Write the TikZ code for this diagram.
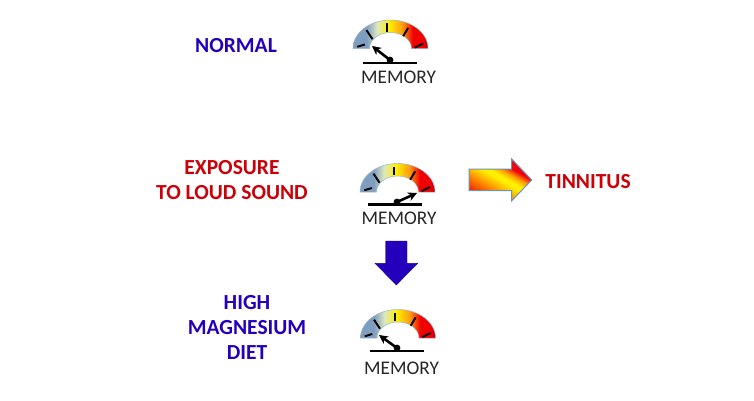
\documentclass[tikz,border=0pt]{standalone}
\usepackage{fontspec}
\setmainfont{Carlito}
\usetikzlibrary{arrows.meta}
\definecolor{gblue}{HTML}{7F9DBE}
\definecolor{glight}{HTML}{DDE8C0}
\definecolor{gyellow}{HTML}{FFEF00}
\definecolor{gorange}{HTML}{FF9A10}
\definecolor{gred}{HTML}{F00000}
\definecolor{gdark}{HTML}{B00010}
\definecolor{fred}{HTML}{F02000}
\definecolor{forange}{HTML}{FF9A00}
\definecolor{fred2}{HTML}{F00010}
\definecolor{labelblue}{HTML}{2400BC}
\definecolor{labelred}{HTML}{CC0008}
\definecolor{edgeblue}{HTML}{6E94B8}
\pgfdeclarehorizontalshading{gaugeband}{100bp}{
 color(0bp)=(gblue); color(25bp)=(gblue); color(34bp)=(gblue);
 color(41bp)=(glight); color(49bp)=(gyellow); color(58bp)=(gorange);
 color(65bp)=(gred); color(72bp)=(gred); color(75bp)=(gdark); color(100bp)=(gdark)}
\pgfdeclareverticalshading{firearrow}{100bp}{
 color(0bp)=(fred); color(25bp)=(fred); color(40bp)=(forange); color(50bp)=(gyellow);
 color(54bp)=(gyellow); color(60bp)=(forange); color(66bp)=(fred2); color(100bp)=(fred2)}
\tikzset{
 bluelabel/.style={font=\fontsize{21.5}{24}\selectfont\bfseries,text=labelblue,align=center,inner sep=0pt},
 redlabel/.style={font=\fontsize{21.5}{24}\selectfont\bfseries,text=labelred,align=center,inner sep=0pt},
 memlabel/.style={font=\fontsize{19.3}{22}\selectfont,text=black!85,inner sep=0pt},
 tickmark/.style={line width=1.9pt,black},
 baseline bar/.style={line width=2.8pt,black},
 needle/.style={line width=2.6pt,black,-{Stealth[length=9pt,width=9pt]}},
 gaugeface/.pic={
  \shade[shading=gaugeband,draw=edgeblue!70,line width=0.5pt]
    (-37.5,0) arc[start angle=180,end angle=0,x radius=37.5,y radius=28.5]
    -- (21,0) arc[start angle=0,end angle=180,x radius=21,y radius=16] -- cycle;
  \draw[tickmark] (-33.3,1.7) -- (-25.7,4);
  \draw[tickmark] (-24,18.3) -- (-18,9.3);
  \draw[tickmark] (-3.3,25) -- (-3.3,16.7);
  \draw[tickmark] (17.7,20.7) -- (12.7,12.3);
  \draw[tickmark] (24.3,1) -- (32.7,5);
 }
}
\begin{document}
\begin{tikzpicture}[x=1pt,y=1pt]
\useasboundingbox[fill=white] (0,0) rectangle (754,400);
% gauges
\pic at (390.5,351.5) {gaugeface};
\pic at (397.5,208) {gaugeface};
\pic at (398,62) {gaugeface};
% gauge 1
\coordinate (p1) at (390,340);
\coordinate (t1) at (372,354);
\coordinate (bl1) at (363,337);
\coordinate (br1) at (417,337);
\draw[baseline bar] (bl1) -- (br1);
\draw[needle] (p1) -- (t1);
\fill (p1) circle (3.4);
\node[memlabel] (m1) at (398.5,323) {MEMORY};
% gauge 2
\coordinate (p2) at (397,198);
\coordinate (t2) at (417,207);
\coordinate (bl2) at (368,195.5);
\coordinate (br2) at (422,195.5);
\draw[baseline bar] (bl2) -- (br2);
\draw[needle] (p2) -- (t2);
\fill (p2) circle (3.4);
\node[memlabel] (m2) at (399,182) {MEMORY};
% gauge 3
\coordinate (p3) at (397,52);
\coordinate (t3) at (379,65);
\coordinate (bl3) at (370,49);
\coordinate (br3) at (424,49);
\draw[baseline bar] (bl3) -- (br3);
\draw[needle] (p3) -- (t3);
\fill (p3) circle (3.4);
\node[memlabel] (m3) at (401.5,32) {MEMORY};
% text
\node[bluelabel] (normal) at (236,354.5) {NORMAL};
\node[redlabel] (exposure) at (232,232.5) {EXPOSURE};
\node[redlabel] (loud) at (232,207.5) {TO LOUD SOUND};
\node[redlabel] (tinnitus) at (588,218.5) {TINNITUS};
\node[bluelabel] (high) at (247,97.5) {HIGH};
\node[bluelabel] (magnesium) at (247,72.5) {MAGNESIUM};
\node[bluelabel] (diet) at (247,47.5) {DIET};
% block arrows
\shade[shading=firearrow,shading angle=-30,draw=edgeblue,line width=1pt]
 (469,231) -- (511.7,231) -- (511.7,241) -- (531.7,220) -- (511.7,199.3)
 -- (511.7,209.3) -- (469,209.3) -- cycle;
\fill[labelblue,draw=labelblue!80!black,line width=0.4pt]
 (385.7,159) -- (407,159) -- (407,136.7) -- (417.7,136.7) -- (396.3,115)
 -- (375,136.7) -- (385.7,136.7) -- cycle;
\end{tikzpicture}
\end{document}
